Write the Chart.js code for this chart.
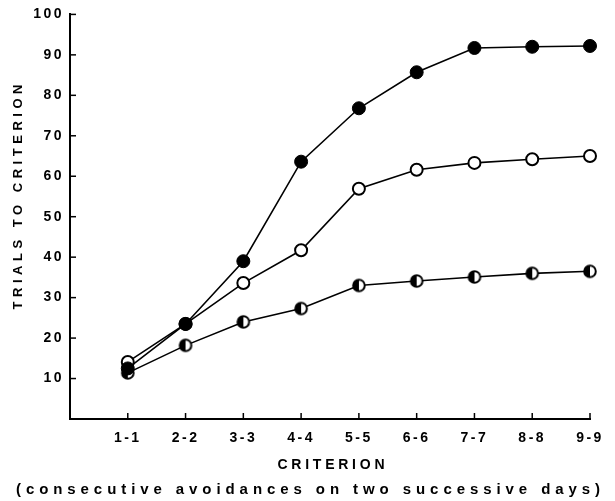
<!DOCTYPE html>
<html>
<head>
<meta charset="utf-8">
<script src="https://cdn.jsdelivr.net/npm/chart.js@4/dist/chart.umd.min.js"></script>
<style>
html,body{margin:0;padding:0;background:#fff;}
canvas{display:block;}
</style>
</head>
<body>
<canvas id="c" width="615" height="501"></canvas>
<script>
const categories = ['1-1','2-2','3-3','4-4','5-5','6-6','7-7','8-8','9-9'];
const filledValues = [12.5, 23.5, 39, 63.6, 76.8, 85.7, 91.7, 92, 92.2];
const openValues   = [14.1, 23.5, 33.6, 41.7, 56.9, 61.6, 63.3, 64.2, 65];
const halfValues   = [11.4, 18.2, 24, 27.3, 33, 34.1, 35.1, 36, 36.5];
const yTicks = [10, 20, 30, 40, 50, 60, 70, 80, 90, 100];
const yTitle = 'TRIALS TO CRITERION';
const xTitle = 'CRITERION';
const xSubtitle = '(consecutive avoidances on two successive days)';

function toPoints(vals){ return vals.map((v,i)=>({x:i+1, y:v})); }

// half-filled marker
const half = document.createElement('canvas');
half.width = 16; half.height = 16;
(function(){
  const c = half.getContext('2d');
  c.beginPath(); c.arc(8,8,5.8,0,Math.PI*2); c.fillStyle='#fff'; c.fill();
  c.beginPath(); c.arc(8,8,5.8,Math.PI/2,Math.PI*1.5); c.closePath(); c.fillStyle='#000'; c.fill();
  c.beginPath(); c.arc(8,8,5.8,0,Math.PI*2); c.lineWidth=2; c.strokeStyle='#000'; c.stroke();
})();

const FONT = '"Liberation Sans", Arial, sans-serif';

const decor = {
  id:'decor',
  beforeDraw(chart){ chart.ctx.letterSpacing = '2.5px'; },
  afterDraw(chart){
    const {ctx, scales:{x,y}, chartArea:a} = chart;
    ctx.save();
    ctx.letterSpacing = '0px';
    ctx.strokeStyle = '#000'; ctx.lineWidth = 1.5;
    yTicks.forEach(v=>{ const py = y.getPixelForValue(v); ctx.beginPath(); ctx.moveTo(a.left, py); ctx.lineTo(a.left+6, py); ctx.stroke(); });
    categories.forEach((c,i)=>{ const px = x.getPixelForValue(i+1); ctx.beginPath(); ctx.moveTo(px, a.bottom); ctx.lineTo(px, a.bottom-6); ctx.stroke(); });
    ctx.fillStyle = '#000';
    ctx.textBaseline = 'middle';
    function fit(text, cx, cy, width, font){
      ctx.font = font; ctx.letterSpacing = '0px';
      const w = ctx.measureText(text).width;
      const sp = (width - w) / (text.length - 1);
      ctx.letterSpacing = sp + 'px';
      ctx.textAlign = 'left';
      ctx.fillText(text, cx - width/2, cy);
      ctx.letterSpacing = '0px';
    }
    fit(xTitle, 331, 465, 107, 'bold 14px ' + FONT);
    fit(xSubtitle, 308, 490, 584, 'bold 15px ' + FONT);
    ctx.save();
    ctx.translate(18, 197); ctx.rotate(-Math.PI/2);
    fit(yTitle, 0, 0, 225, 'bold 13px ' + FONT);
    ctx.restore();
    ctx.restore();
    ctx.letterSpacing = '0px';
  }
};

new Chart(document.getElementById('c'), {
  type:'line',
  data:{
    datasets:[
      {data:toPoints(filledValues), borderColor:'#000', borderWidth:1.6, pointStyle:'circle', pointRadius:6.5, pointBackgroundColor:'#000', pointBorderColor:'#000', pointBorderWidth:1, tension:0},
      {data:toPoints(openValues), borderColor:'#000', borderWidth:1.6, pointStyle:'circle', pointRadius:6, pointBackgroundColor:'#fff', pointBorderColor:'#000', pointBorderWidth:2, tension:0},
      {data:toPoints(halfValues), borderColor:'#000', borderWidth:1.6, pointStyle:half, pointRadius:6, tension:0}
    ]
  },
  options:{
    responsive:false, animation:false, devicePixelRatio:1,
    layout:{padding:{top:14, right:25, left:0, bottom:0}},
    plugins:{legend:{display:false}, tooltip:{enabled:false}},
    elements:{point:{hoverRadius:6}},
    clip:false,
    scales:{
      x:{
        type:'linear', min:0, max:9,
        afterBuildTicks(s){ s.ticks = categories.map((c,i)=>({value:i+1})); },
        afterFit(s){ s.height = 82; },
        grid:{display:false, drawTicks:false},
        border:{display:true, color:'#000', width:2},
        ticks:{padding:11, color:'#000', autoSkip:false, maxRotation:0, font:{family:FONT, size:14, weight:'bold'}, callback:(v)=>categories[v-1] || ''}
      },
      y:{
        min:0, max:100,
        afterBuildTicks(s){ s.ticks = yTicks.map(v=>({value:v})); },
        afterFit(s){ s.width = 70; },
        grid:{display:false, drawTicks:false},
        border:{display:true, color:'#000', width:2},
        ticks:{padding:6, color:'#000', font:{family:FONT, size:14, weight:'bold'}}
      }
    }
  },
  plugins:[decor]
});
</script>
</body>
</html>
